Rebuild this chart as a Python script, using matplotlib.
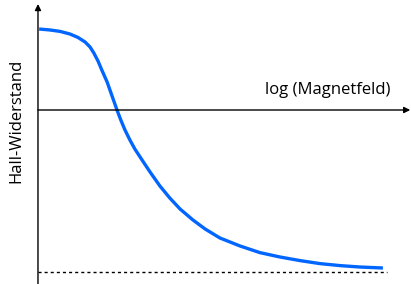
import matplotlib.pyplot as plt
import numpy as np

plt.rcParams['font.family'] = ['Open Sans', 'DejaVu Sans']

# Hall-Widerstand gegen log(Magnetfeld)
log_b = [0.03, 0.32, 0.58, 0.84, 1.05, 1.24, 1.37, 1.47, 1.58, 1.68,
         1.82, 1.95, 2.08, 2.18, 2.29, 2.42, 2.55, 2.74, 2.95, 3.21,
         3.47, 3.74, 4.08, 4.40, 4.79, 5.32, 5.84, 6.37, 6.90, 7.42,
         7.95, 8.47, 9.08]
r_hall = [4.05, 4.0, 3.93, 3.8, 3.63, 3.4, 3.15, 2.85, 2.45, 2.0,
          1.4, 0.7, 0.0, -0.5, -1.0, -1.5, -1.95, -2.5, -3.1, -3.8,
          -4.4, -4.95, -5.5, -5.95, -6.4, -6.8, -7.13, -7.35, -7.53, -7.68,
          -7.78, -7.85, -7.9]
r_limit = -8.08
limit_end = 9.18

fig = plt.figure(figsize=(4.11, 2.84), dpi=100)
ax = fig.add_axes([0, 0, 1, 1])
ax.set_xlim(-1.0, 9.82)
ax.set_ylim(-8.7, 5.5)
ax.axis('off')

ax.plot(log_b, r_hall, color='#0066ff', lw=2.4, solid_capstyle='butt',
        solid_joinstyle='round')
ax.plot([0, limit_end], [r_limit, r_limit], color='black', lw=1.0,
        linestyle=(0, (2.2, 2.2)))

arrow = dict(arrowstyle='-|>', color='black', lw=1.0,
             mutation_scale=9, shrinkA=0, shrinkB=0)
ax.annotate('', xy=(0, 5.3), xytext=(0, -8.7), arrowprops=arrow)
ax.annotate('', xy=(9.8, 0), xytext=(0, 0), arrowprops=arrow)

ax.text(7.63, 1.0, 'log (Magnetfeld)', fontsize=12, ha='center', va='center')
ax.text(-0.58, -0.55, 'Hall-Widerstand', fontsize=12, ha='center',
        va='center', rotation=90)

fig.savefig('out.png', dpi=100)
